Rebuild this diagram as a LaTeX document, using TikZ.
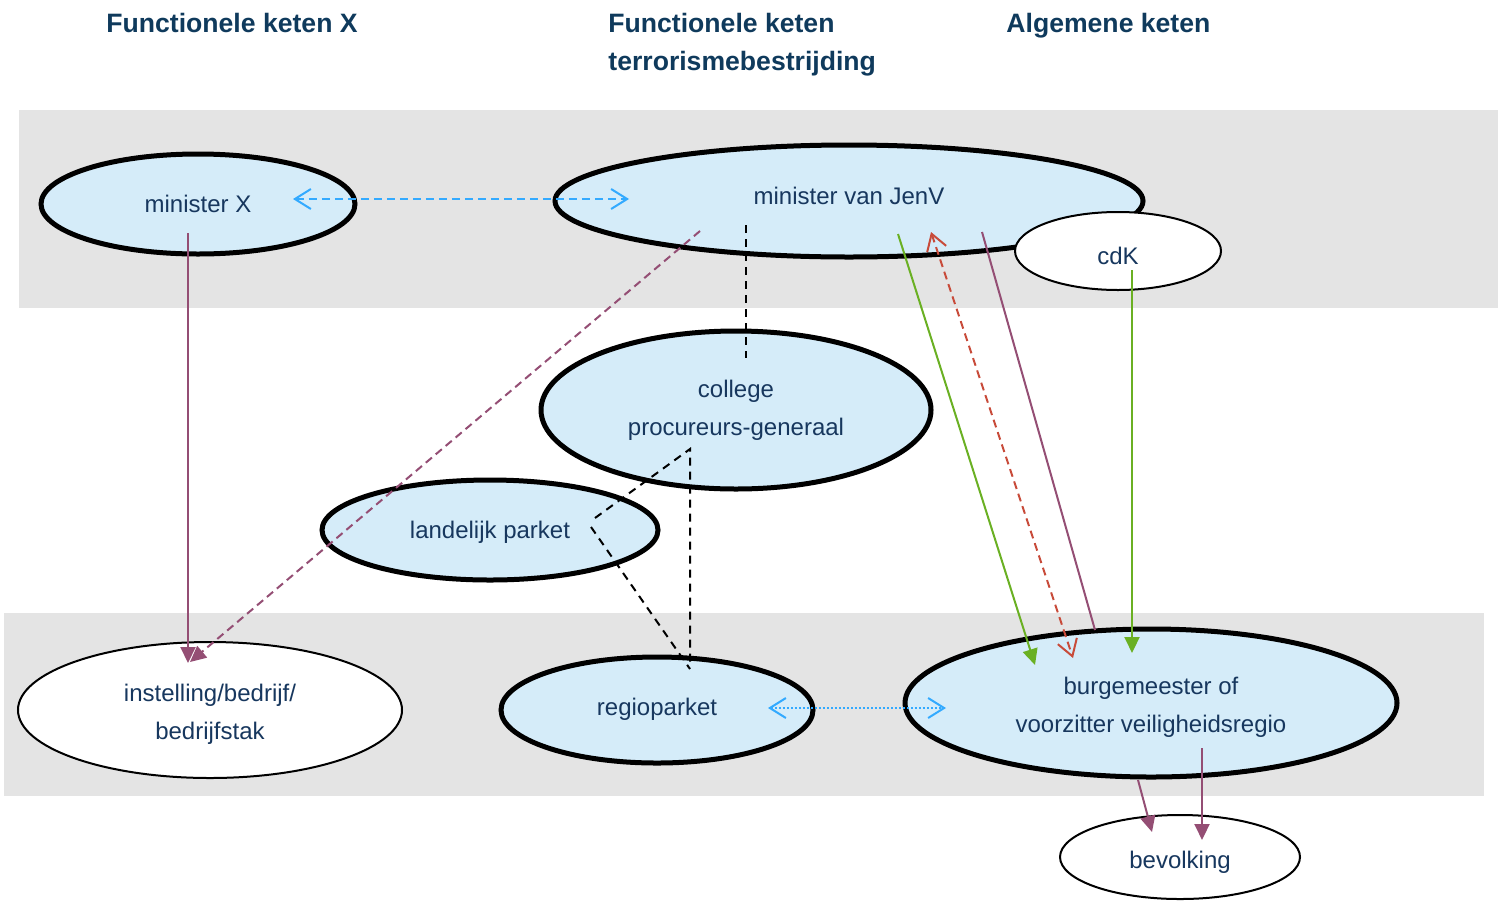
\documentclass[tikz,border=0pt]{standalone}
\usepackage{fontspec}
\setmainfont{Liberation Sans}
\usetikzlibrary{calc,arrows.meta,shapes.geometric}
\definecolor{bandgray}{HTML}{E4E4E4}
\definecolor{nodefill}{HTML}{D5ECF9}
\definecolor{navy}{HTML}{0F3A5C}
\definecolor{txt}{HTML}{17375E}
\definecolor{bluearr}{HTML}{33AAFF}
\definecolor{purple}{HTML}{944E74}
\definecolor{greenarr}{HTML}{6AB023}
\definecolor{redarr}{HTML}{C84B3A}
\tikzset{
  band/.style={fill=bandgray,draw=none},
  bigell/.style={ellipse,draw=black,line width=2.5pt,fill=nodefill,inner sep=0pt},
  smallell/.style={ellipse,draw=black,line width=1pt,fill=white,inner sep=0pt},
  lbl/.style={text=txt,font=\fontsize{12}{19}\selectfont,align=center,inner sep=0pt},
  title/.style={anchor=base west,inner sep=0pt,text=navy,font=\fontsize{13.3}{19}\selectfont\bfseries},
  conn/.style={line width=1pt},
  fillarrow/.style={conn,-{Triangle[length=8pt,width=7.5pt]}},
  openarrows/.style={conn,{Straight Barb[length=8pt,width=10pt]}-{Straight Barb[length=8pt,width=10pt]}},
  blackdash/.style={conn,black,dash pattern=on 4pt off 3pt},
}
\begin{document}
\begin{tikzpicture}[x=0.5pt,y=-0.5pt]
\useasboundingbox (0,0) rectangle (1502,900);
% bands
\fill[band] (19,110) rectangle (1498,308);
\fill[band] (4,613) rectangle (1484,796);
% titles
\node[title] (t1) at (106,32) {Functionele keten X};
\node[title] (t2) at (608,32) {Functionele keten};
\node[title] (t3) at (608,70) {terrorismebestrijding};
\node[title] (t4) at (1006,32) {Algemene keten};
% nodes
\node[bigell,minimum width=157pt,minimum height=50pt,
  label={[lbl,yshift=0.25pt]center:minister X}] (mx) at (198,204) {};
\node[bigell,minimum width=294pt,minimum height=56pt,
  label={[lbl,yshift=2.75pt]center:minister van JenV}] (jenv) at (849,201) {};
\node[smallell,minimum width=103pt,minimum height=39pt,
  label={[lbl,yshift=-2.25pt]center:cdK}] (cdk) at (1118,251) {};
\node[bigell,minimum width=195pt,minimum height=79pt,
  label={[lbl]center:college\\procureurs-generaal}] (college) at (736,410) {};
\node[bigell,minimum width=168pt,minimum height=50pt,
  label={[lbl,yshift=-1.25pt]center:landelijk parket}] (lp) at (490,530) {};
\node[smallell,minimum width=192pt,minimum height=68pt,
  label={[lbl,yshift=-2.25pt]center:instelling/bedrijf/\\bedrijfstak}] (inst) at (210,710) {};
\node[bigell,minimum width=156pt,minimum height=53pt,
  label={[lbl,yshift=0.25pt]center:regioparket}] (rp) at (657,710) {};
\node[bigell,minimum width=246pt,minimum height=74pt,
  label={[lbl,yshift=-2.25pt]center:burgemeester of\\voorzitter veiligheidsregio}] (bm) at (1151,703) {};
\node[smallell,minimum width=120pt,minimum height=42pt,
  label={[lbl,yshift=-2.75pt]center:bevolking}] (bev) at (1180,857) {};
% connectors
\draw[openarrows,bluearr,dash pattern=on 4pt off 2.5pt] ($(mx)+(95,-5)$) -- ($(jenv)+(-220,-2)$);
\draw[fillarrow,purple] ($(mx)+(-10,29)$) -- ($(inst)+(-22,-47)$);
\draw[fillarrow,purple,dash pattern=on 4pt off 2.5pt] ($(jenv)+(-149,30)$) -- ($(inst)+(-20,-48)$);
\draw[blackdash] ($(jenv)+(-103,24)$) -- ($(college)+(10,-52)$);
\draw[blackdash] ($(lp)+(105,-12)$) -- ($(college)+(-46,39)$) -- ($(rp)+(33,-47)$);
\draw[blackdash] ($(lp)+(101,-3)$) -- ($(rp)+(33,-41)$);
\draw[fillarrow,greenarr] ($(jenv)+(49,33)$) -- ($(bm)+(-116,-38)$);
\draw[openarrows,redarr,dash pattern=on 4pt off 2.5pt] ($(jenv)+(82,31)$) -- ($(bm)+(-78,-45)$);
\draw[conn,purple] ($(jenv)+(133,31)$) -- ($(bm)+(-56,-73)$);
\draw[fillarrow,greenarr] ($(cdk)+(14,19)$) -- ($(bm)+(-19,-50)$);
\draw[openarrows,bluearr,dash pattern=on 1pt off 1pt] ($(rp)+(111,-2)$) -- ($(bm)+(-205,5)$);
\draw[fillarrow,purple] ($(bm)+(-13,77)$) -- ($(bev)+(-28,-25)$);
\draw[fillarrow,purple] ($(bm)+(51,45)$) -- ($(bev)+(22,-17)$);
\end{tikzpicture}
\end{document}
